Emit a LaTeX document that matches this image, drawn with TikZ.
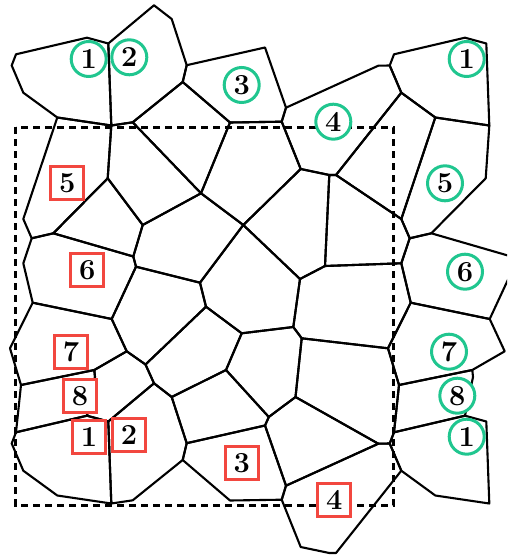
\documentclass[tikz,border=0pt]{standalone}
\usepackage{xcolor}
\definecolor{imggreen}{HTML}{20C68F}
\definecolor{basered}{HTML}{F2473F}

\begin{document}
\begin{tikzpicture}[x=0.5pt,y=-0.5pt,
			cell/.style={draw=black, line width=1.05pt, line join=round},
			period box/.style={draw=black, line width=1.5pt, dash pattern=on 3.4pt off 2.6pt},
			label font/.style={font=\fontsize{14.5}{14.5}\selectfont\bfseries},
			image label/.style={circle, draw=imggreen, line width=1.5pt, fill=white, minimum size=17.5pt, inner sep=0pt, label font},
			base label/.style={rectangle, draw=basered, line width=1.5pt, fill=white, minimum size=16.5pt, inner sep=0pt, label font}
			]
			\useasboundingbox (0,0) rectangle (507,555);
			\clip (0,0) rectangle (507,555);
			
			% cells cut by the box, drawn again where their images fall
			\foreach \dx/\dy in {0/0,0/-378,378/-378,378/0}
			\draw[cell, shift={(\dx,\dy)}] (16,432.3) -- (87,415.7) -- (108.3,421.5) -- (111.3,503.5) -- (57.3,495.5) -- (23.3,470.7) -- (11.7,443.5) -- cycle;
			\foreach \dy in {0,-378} {
				\draw[cell, shift={(0,\dy)}] (108.3,421.5) -- (154,383.3) -- (171.7,397) -- (186.7,443.2) -- (182.7,460) -- (132.7,500.3) -- (111.3,503.5) -- cycle;
				\draw[cell, shift={(0,\dy)}] (186.7,443.2) -- (265,425.5) -- (286,485.7) -- (281.7,499.7) -- (230,500.5) -- (182.7,460) -- cycle;
				\draw[cell, shift={(0,\dy)}] (281.7,499.7) -- (286,485.7) -- (378.3,443.7) -- (389.7,443.5) -- (401.3,470.7) -- (336,553) -- (329.3,553) -- (300.7,547) -- cycle;
			}
			\foreach \dx in {0,378} {
				\draw[cell, shift={(\dx,0)}] (57.3,117.5) -- (111.3,125.5) -- (107.7,178.3) -- (53.3,233.3) -- (31.7,238.3) -- (23.3,219) -- cycle;
				\draw[cell, shift={(\dx,0)}] (31.7,238.3) -- (53.3,233.3) -- (133.3,256.5) -- (136,266.7) -- (111.7,319) -- (32.7,302.7) -- (23.3,263.3) -- cycle;
				\draw[cell, shift={(\dx,0)}] (32.7,302.7) -- (111.7,319) -- (126.7,351.3) -- (94.3,370) -- (21,385) -- (10,348.3) -- cycle;
				\draw[cell, shift={(\dx,0)}] (21,385) -- (94.3,370) -- (95,377) -- (87,415.7) -- (16,432.3) -- cycle;
			}
			
			% inner vertices
			\coordinate (A) at (111.3,125.5);
			\coordinate (B) at (132.7,122.3);
			\coordinate (C) at (230,122.5);
			\coordinate (D) at (281.7,121.7);
			\coordinate (E) at (300.7,169);
			\coordinate (F) at (329.3,175);
			\coordinate (G) at (336,175);
			\coordinate (H) at (401.3,219);
			\coordinate (H2) at (409.7,238.3);
			\coordinate (R) at (401.3,263.3);
			\coordinate (I) at (107.7,178.3);
			\coordinate (J) at (142.7,225);
			\coordinate (K) at (201,193.3);
			\coordinate (L) at (243.3,225);
			\coordinate (M) at (133.3,256.5);
			\coordinate (N) at (136,266.7);
			\coordinate (O) at (200,282.7);
			\coordinate (P) at (300,279);
			\coordinate (Q) at (325,266);
			\coordinate (S) at (206,306.7);
			\coordinate (T) at (241.7,333.3);
			\coordinate (U) at (293.3,327);
			\coordinate (V) at (301.7,338.3);
			\coordinate (W) at (388,348.3);
			\coordinate (W2) at (410.7,302.7);
			\coordinate (X) at (111.7,319);
			\coordinate (Y) at (126.7,351.3);
			\coordinate (Z) at (145.5,364.5);
			\coordinate (T2) at (182.7,82);
			\coordinate (TR1) at (401.3,92.7);
			\coordinate (TR2) at (435.3,117.5);
			\coordinate (LC) at (53.3,233.3);
			\coordinate (B1) at (226,370);
			\coordinate (B2) at (268.8,417);
			\coordinate (B3) at (265,425.5);
			\coordinate (B4) at (295.5,397);
			\coordinate (B5) at (378.3,443.7);
			\coordinate (B6) at (389.7,443.5);
			\coordinate (B7) at (394,432.3);
			\coordinate (B8) at (399,385);
			\coordinate (B9) at (286,485.7);
			\coordinate (B10) at (186.7,443.2);
			\coordinate (B11) at (171.7,397);
			\coordinate (B12) at (154,383.3);
			\coordinate (B13) at (108.3,421.5);
			\coordinate (B14) at (87,415.7);
			\coordinate (B15) at (95,377);
			\coordinate (B16) at (94.3,370);
			
			% inner cells
			\draw[cell] (A) -- (B) -- (K) -- (J) -- (I) -- cycle;
			\draw[cell] (B) -- (T2) -- (C) -- (K) -- cycle;
			\draw[cell] (C) -- (D) -- (E) -- (L) -- (K) -- cycle;
			\draw[cell] (E) -- (F) -- (Q) -- (P) -- (L) -- cycle;
			\draw[cell] (F) -- (G) -- (H) -- (H2) -- (R) -- (Q) -- cycle;
			\draw[cell] (G) -- (TR1) -- (TR2) -- (H) -- cycle;
			\draw[cell] (I) -- (J) -- (M) -- (LC) -- cycle;
			\draw[cell] (J) -- (K) -- (L) -- (O) -- (N) -- (M) -- cycle;
			\draw[cell] (L) -- (P) -- (U) -- (T) -- (S) -- (O) -- cycle;
			\draw[cell] (P) -- (Q) -- (R) -- (W2) -- (W) -- (V) -- (U) -- cycle;
			\draw[cell] (N) -- (O) -- (S) -- (Z) -- (Y) -- (X) -- cycle;
			\draw[cell] (S) -- (T) -- (B1) -- (B11) -- (B12) -- (Z) -- cycle;
			\draw[cell] (T) -- (U) -- (V) -- (B4) -- (B2) -- (B1) -- cycle;
			\draw[cell] (B1) -- (B2) -- (B3) -- (B10) -- (B11) -- cycle;
			\draw[cell] (V) -- (W) -- (B8) -- (B7) -- (B6) -- (B5) -- (B4) -- cycle;
			\draw[cell] (B2) -- (B4) -- (B5) -- (B9) -- (B3) -- cycle;
			\draw[cell] (B16) -- (Y) -- (Z) -- (B12) -- (B13) -- (B14) -- (B15) -- cycle;
			
			% period box
			\draw[period box] (15.7,127.3) rectangle (393.3,505.7);
			
			% labels in the box
			\node[base label] (base5) at (67.3,183.3) {5};
			\node[base label] (base6) at (87.3,270) {6};
			\node[base label] (base7) at (71,351.7) {7};
			\node[base label] (base8) at (80,396) {8};
			\node[base label] (base1) at (89,436.7) {1};
			\node[base label] (base2) at (129,435) {2};
			\node[base label] (base3) at (241.7,462.7) {3};
			\node[base label] (base4) at (334.3,500) {4};
			
			% labels of the images
			\node[image label] (img1a) at (88.7,59) {1};
			\node[image label] (img2) at (129.3,57.3) {2};
			\node[image label] (img3) at (241.7,85) {3};
			\node[image label] (img4) at (333.3,121.7) {4};
			\node[image label] (img1b) at (466.7,59) {1};
			\node[image label] (img5) at (445,183.3) {5};
			\node[image label] (img6) at (465,271.7) {6};
			\node[image label] (img7) at (449,351.7) {7};
			\node[image label] (img8) at (457.3,395.7) {8};
			\node[image label] (img1c) at (466.7,436.7) {1};
		\end{tikzpicture}
\end{document}
